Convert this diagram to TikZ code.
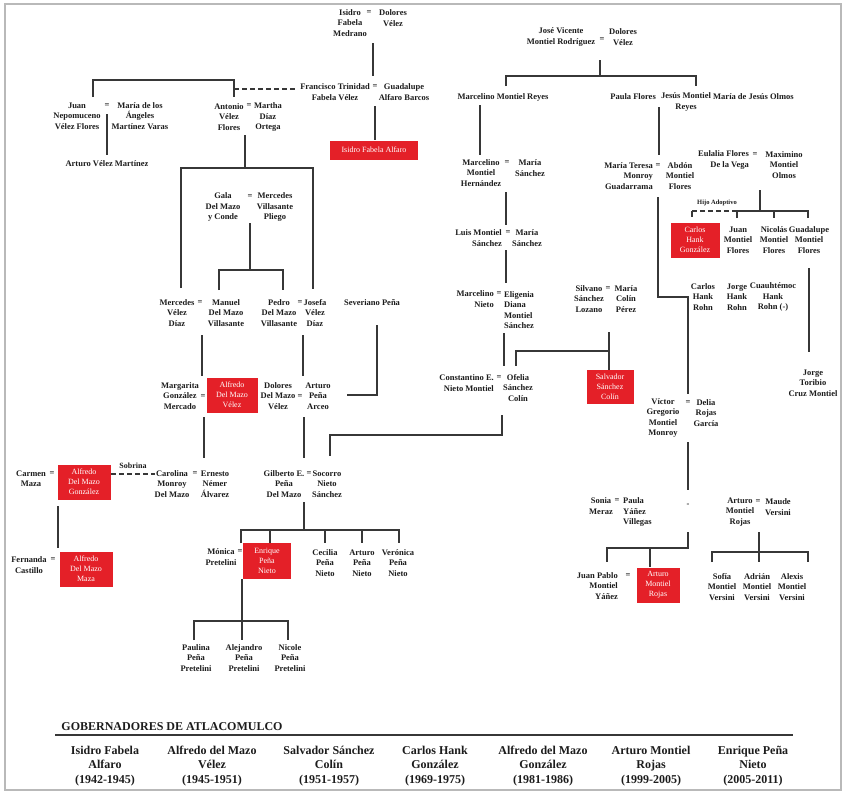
\documentclass[tikz,border=0pt]{standalone}
\usepackage{fontspec}
\setmainfont{Liberation Serif}
\definecolor{boxred}{RGB}{228,32,40}
\definecolor{linegray}{RGB}{55,55,55}
\definecolor{txt}{RGB}{28,28,28}
\begin{document}
\begin{tikzpicture}[x=1pt,y=-1pt,
  p/.style={font=\fontsize{8.5}{10.3}\selectfont\bfseries, align=center, inner sep=0pt, text=txt},
  pr/.style={p, align=right, anchor=east},
  pl/.style={p, align=left, anchor=west},
  eqs/.style={font=\fontsize{8.5}{10.3}\selectfont\bfseries, inner sep=0pt, text=txt},
  lbl/.style={font=\fontsize{7}{8}\selectfont\bfseries, inner sep=0pt, text=txt},
  gov/.style={font=\fontsize{12}{14.5}\selectfont\bfseries, align=center, inner sep=0pt, text=txt},
  rbox/.style={fill=boxred, text=white, align=center, inner sep=0pt, font=\fontsize{8}{10}\selectfont},
  ln/.style={draw=linegray, line width=2.2pt},
  dln/.style={draw=linegray, line width=2pt, dash pattern=on 5pt off 3pt},
]
\useasboundingbox (0,0) rectangle (849,793);
\draw[gray!55, line width=1.6pt] (5,4) rectangle (841,790);

% ---------------- left tree ----------------
\node[p] (isidroF) at (350,23) {Isidro\\Fabela\\Medrano};
\node[eqs] (eqA) at (369,13) {=};
\node[p] (doloresV) at (393,18) {Dolores\\Vélez};
\node[p] (francisco) at (335,92) {Francisco Trinidad\\Fabela Vélez};
\node[eqs] (eqB) at (375,87) {=};
\node[p] (guadalupe) at (404,92) {Guadalupe\\Alfaro Barcos};
\node[rbox, minimum width=88pt, minimum height=19pt] (isidroA) at (374,150) {Isidro Fabela Alfaro};
\node[p] (juanN) at (77,116) {Juan\\Nepomuceno\\Vélez Flores};
\node[eqs] (eqC) at (107,106) {=};
\node[p] (mariaA) at (140,116) {María de los\\Ángeles\\Martínez Varas};
\node[p] (arturoVM) at (107,164) {Arturo Vélez Martínez};
\node[p] (antonio) at (229,117) {Antonio\\Vélez\\Flores};
\node[eqs] (eqD) at (249,106) {=};
\node[p] (martha) at (268,117) {Martha\\Díaz\\Ortega};
\node[p] (gala) at (223,207) {Gala\\Del Mazo\\y Conde};
\node[eqs] (eqE) at (250,197) {=};
\node[p] (mercedesV) at (275,207) {Mercedes\\Villasante\\Pliego};
\node[p] (mercedesVD) at (177,313) {Mercedes\\Vélez\\Díaz};
\node[eqs] (eqF) at (200,303) {=};
\node[p] (manuel) at (226,313) {Manuel\\Del Mazo\\Villasante};
\node[p] (pedro) at (279,313) {Pedro\\Del Mazo\\Villasante};
\node[eqs] (eqG) at (300,303) {=};
\node[p] (josefa) at (315,313) {Josefa\\Vélez\\Díaz};
\node[p] (severiano) at (372,303) {Severiano Peña};
\node[p] (margarita) at (180,396) {Margarita\\González\\Mercado};
\node[eqs] (eqH) at (203,397) {=};
\node[rbox, minimum width=51pt, minimum height=35pt] (alfredoMV) at (232,395) {Alfredo\\Del Mazo\\Vélez};
\node[p] (doloresDM) at (278,396) {Dolores\\Del Mazo\\Vélez};
\node[eqs] (eqI) at (300,397) {=};
\node[p] (arturoPA) at (318,396) {Arturo\\Peña\\Arceo};
\node[p] (carmen) at (31,479) {Carmen\\Maza};
\node[eqs] (eqJ) at (52,474) {=};
\node[rbox, minimum width=53pt, minimum height=35pt] (alfredoMG) at (84,482) {Alfredo\\Del Mazo\\González};
\node[lbl, font=\fontsize{8}{9}\selectfont\bfseries] (sobrina) at (133,466) {Sobrina};
\node[p] (carolina) at (172,484) {Carolina\\Monroy\\Del Mazo};
\node[eqs] (eqK) at (195,474) {=};
\node[p] (ernesto) at (215,484) {Ernesto\\Némer\\Álvarez};
\node[p] (gilberto) at (284,484) {Gilberto E.\\Peña\\Del Mazo};
\node[eqs] (eqL) at (309,474) {=};
\node[p] (socorro) at (327,484) {Socorro\\Nieto\\Sánchez};
\node[p] (fernanda) at (29,565) {Fernanda\\Castillo};
\node[eqs] (eqM) at (53,560) {=};
\node[rbox, minimum width=53pt, minimum height=35pt] (alfredoMM) at (86,569) {Alfredo\\Del Mazo\\Maza};
\node[p] (monica) at (221,557) {Mónica\\Pretelini};
\node[eqs] (eqN) at (240,552) {=};
\node[rbox, minimum width=48pt, minimum height=36pt] (enrique) at (267,561) {Enrique\\Peña\\Nieto};
\node[p] (cecilia) at (325,563) {Cecilia\\Peña\\Nieto};
\node[p] (arturoPN) at (362,563) {Arturo\\Peña\\Nieto};
\node[p] (veronica) at (398,563) {Verónica\\Peña\\Nieto};
\node[p] (paulina) at (196,658) {Paulina\\Peña\\Pretelini};
\node[p] (alejandro) at (244,658) {Alejandro\\Peña\\Pretelini};
\node[p] (nicole) at (290,658) {Nicole\\Peña\\Pretelini};

% ---------------- right tree ----------------
\node[p] (joseV) at (561,37) {José Vicente\\Montiel Rodríguez};
\node[eqs] (eqO) at (602,40) {=};
\node[p] (doloresV2) at (623,37) {Dolores\\Vélez};
\node[p] (marcelinoMR) at (503,97) {Marcelino Montiel Reyes};
\node[pr] (paula) at (656,97) {Paula Flores};
\node[p] (jesus) at (686,102) {Jesús Montiel\\Reyes};
\node[pl] (mariaJO) at (713,97) {María de Jesús Olmos};
\node[p] (marcelinoMH) at (481,173) {Marcelino\\Montiel\\Hernández};
\node[eqs] (eqP) at (507,163) {=};
\node[p] (mariaS1) at (530,168) {María\\Sánchez};
\node[pr] (luis) at (502,238) {Luis Montiel\\Sánchez};
\node[eqs] (eqQ) at (508,233) {=};
\node[p] (mariaS2) at (527,238) {María\\Sánchez};
\node[pr] (marcelinoN) at (494,299) {Marcelino\\Nieto};
\node[eqs] (eqR) at (499,294) {=};
\node[pl] (eligenia) at (504,310) {Eligenia\\Diana\\Montiel\\Sánchez};
\node[pr] (constantino) at (494,383) {Constantino E.\\Nieto Montiel};
\node[eqs] (eqS) at (499,378) {=};
\node[p] (ofelia) at (518,388) {Ofelia\\Sánchez\\Colín};
\node[p] (silvano) at (589,299) {Silvano\\Sánchez\\Lozano};
\node[eqs] (eqT) at (608,289) {=};
\node[p] (mariaC) at (626,299) {María\\Colín\\Pérez};
\node[rbox, minimum width=47pt, minimum height=34pt] (salvador) at (610,387) {Salvador\\Sánchez\\Colín};
\node[pr] (mariaT) at (653,176) {María Teresa\\Monroy\\Guadarrama};
\node[eqs] (eqU) at (658,166) {=};
\node[p] (abdon) at (680,176) {Abdón\\Montiel\\Flores};
\node[pr] (eulalia) at (749,160) {Eulalia Flores\\De la Vega};
\node[eqs] (eqV) at (755,155) {=};
\node[p] (maximino) at (784,165) {Maximino\\Montiel\\Olmos};
\node[lbl, font=\fontsize{6.5}{7}\selectfont\bfseries] (hijo) at (717,203) {Hijo Adoptivo};
\node[rbox, minimum width=49pt, minimum height=35pt] (carlosHG) at (695,240) {Carlos\\Hank\\González};
\node[p] (juanMF) at (738,240) {Juan\\Montiel\\Flores};
\node[p] (nicolasMF) at (774,240) {Nicolás\\Montiel\\Flores};
\node[p] (guadalupeMF) at (809,240) {Guadalupe\\Montiel\\Flores};
\node[p] (carlosHR) at (703,297) {Carlos\\Hank\\Rohn};
\node[p] (jorgeHR) at (737,297) {Jorge\\Hank\\Rohn};
\node[p] (cuauhtemoc) at (773,297) {Cuauhtémoc\\Hank\\Rohn (-)};
\node[p] (jorgeT) at (813,383) {Jorge\\Toribio\\Cruz Montiel};
\node[p] (victor) at (663,418) {Víctor\\Gregorio\\Montiel\\Monroy};
\node[eqs] (eqW) at (688,403) {=};
\node[p] (delia) at (706,413) {Delia\\Rojas\\García};
\node[p] (sonia) at (601,506) {Sonia\\Meraz};
\node[eqs] (eqX) at (617,501) {=};
\node[pl] (paulaY) at (623,512) {Paula\\Yáñez\\Villegas};
\node[eqs] (dashm) at (688,505) {-};
\node[p] (arturoMR2) at (740,512) {Arturo\\Montiel\\Rojas};
\node[eqs] (eqY) at (758,502) {=};
\node[p] (maude) at (778,507) {Maude\\Versini};
\node[pr] (juanPablo) at (618,586) {Juan Pablo\\Montiel\\Yáñez};
\node[eqs] (eqZ) at (628,576) {=};
\node[rbox, minimum width=43pt, minimum height=35pt] (arturoMR) at (658,585) {Arturo\\Montiel\\Rojas};
\node[p] (sofia) at (722,587) {Sofía\\Montiel\\Versini};
\node[p] (adrian) at (757,587) {Adrián\\Montiel\\Versini};
\node[p] (alexis) at (792,587) {Alexis\\Montiel\\Versini};

% ---------------- connectors: left ----------------
\coordinate (a1) at (373,43); \coordinate (a2) at (373,76);
\draw[ln] (a1) -- (a2);
\coordinate (b1) at (93,97); \coordinate (b2) at (93,80); \coordinate (b3) at (234,80); \coordinate (b4) at (234,97);
\draw[ln] (b1) -- (b2) -- (b3) -- (b4);
\coordinate (d1) at (234,89); \coordinate (d2) at (296,89);
\draw[dln] (d1) -- (d2);
\coordinate (c1) at (375,106); \coordinate (c2) at (375,140);
\draw[ln] (c1) -- (c2);
\coordinate (e1) at (107,114); \coordinate (e2) at (107,155);
\draw[ln] (e1) -- (e2);
\coordinate (f1) at (245,135); \coordinate (f2) at (245,168);
\draw[ln] (f1) -- (f2);
\coordinate (f3) at (181,288); \coordinate (f4) at (181,168); \coordinate (f5) at (313,168); \coordinate (f6) at (313,289);
\draw[ln] (f3) -- (f4) -- (f5) -- (f6);
\coordinate (g1) at (250,223); \coordinate (g2) at (250,270);
\draw[ln] (g1) -- (g2);
\coordinate (g3) at (219,290); \coordinate (g4) at (219,270); \coordinate (g5) at (283,270); \coordinate (g6) at (283,290);
\draw[ln] (g3) -- (g4) -- (g5) -- (g6);
\coordinate (h1) at (202,335); \coordinate (h2) at (202,376);
\draw[ln] (h1) -- (h2);
\coordinate (h3) at (303,335); \coordinate (h4) at (303,376);
\draw[ln] (h3) -- (h4);
\coordinate (i1) at (377,325); \coordinate (i2) at (377,395); \coordinate (i3) at (347,395);
\draw[ln] (i1) -- (i2) -- (i3);
\coordinate (j1) at (204,417); \coordinate (j2) at (204,458);
\draw[ln] (j1) -- (j2);
\coordinate (j3) at (304,417); \coordinate (j4) at (304,458);
\draw[ln] (j3) -- (j4);
\coordinate (k1) at (502,415); \coordinate (k2) at (502,435); \coordinate (k3) at (330,435); \coordinate (k4) at (330,456);
\draw[ln] (k1) -- (k2) -- (k3) -- (k4);
\coordinate (s1) at (111,474); \coordinate (s2) at (155,474);
\draw[dln] (s1) -- (s2);
\coordinate (m1) at (58,506); \coordinate (m2) at (58,548);
\draw[ln] (m1) -- (m2);
\coordinate (n1) at (304,502); \coordinate (n2) at (304,530);
\draw[ln] (n1) -- (n2);
\coordinate (n3) at (241,543); \coordinate (n4) at (241,530); \coordinate (n5) at (399,530); \coordinate (n6) at (399,543);
\draw[ln] (n3) -- (n4) -- (n5) -- (n6);
\coordinate (n7) at (270,530); \coordinate (n8) at (270,543);
\draw[ln] (n7) -- (n8);
\coordinate (n9) at (325,530); \coordinate (n10) at (325,543);
\draw[ln] (n9) -- (n10);
\coordinate (n11) at (362,530); \coordinate (n12) at (362,543);
\draw[ln] (n11) -- (n12);
\coordinate (o1) at (242,579); \coordinate (o2) at (242,640);
\draw[ln] (o1) -- (o2);
\coordinate (o3) at (194,640); \coordinate (o4) at (194,621); \coordinate (o5) at (288,621); \coordinate (o6) at (288,640);
\draw[ln] (o3) -- (o4) -- (o5) -- (o6);

% ---------------- connectors: right ----------------
\coordinate (q1) at (600,60); \coordinate (q2) at (600,76);
\draw[ln] (q1) -- (q2);
\coordinate (q3) at (506,86); \coordinate (q4) at (506,76); \coordinate (q5) at (696,76); \coordinate (q6) at (696,86);
\draw[ln] (q3) -- (q4) -- (q5) -- (q6);
\coordinate (r1) at (480,105); \coordinate (r2) at (480,155);
\draw[ln] (r1) -- (r2);
\coordinate (r3) at (659,107); \coordinate (r4) at (659,155);
\draw[ln] (r3) -- (r4);
\coordinate (t1) at (506,192); \coordinate (t2) at (506,225);
\draw[ln] (t1) -- (t2);
\coordinate (t3) at (506,250); \coordinate (t4) at (506,283);
\draw[ln] (t3) -- (t4);
\coordinate (t5) at (504,333); \coordinate (t6) at (504,366);
\draw[ln] (t5) -- (t6);
\coordinate (u1) at (609,332); \coordinate (u2) at (609,370);
\draw[ln] (u1) -- (u2);
\coordinate (u3) at (609,351); \coordinate (u4) at (516,351); \coordinate (u5) at (516,366);
\draw[ln] (u3) -- (u4) -- (u5);
\coordinate (v1) at (658,197); \coordinate (v2) at (658,297); \coordinate (v3) at (688,297); \coordinate (v4) at (688,394);
\draw[ln] (v1) -- (v2) -- (v3) -- (v4);
\coordinate (w1) at (688,442); \coordinate (w2) at (688,490);
\draw[ln] (w1) -- (w2);
\coordinate (w3) at (688,532); \coordinate (w4) at (688,548); \coordinate (w5) at (607,548); \coordinate (w6) at (607,562);
\draw[ln] (w3) -- (w4) -- (w5) -- (w6);
\coordinate (w7) at (650,548); \coordinate (w8) at (650,567);
\draw[ln] (w7) -- (w8);
\coordinate (x1) at (760,190); \coordinate (x2) at (760,211);
\draw[ln] (x1) -- (x2);
\coordinate (x3) at (737,218); \coordinate (x4) at (737,211); \coordinate (x5) at (808,211); \coordinate (x6) at (808,218);
\draw[ln] (x3) -- (x4) -- (x5) -- (x6);
\coordinate (x7) at (774,211); \coordinate (x8) at (774,218);
\draw[ln] (x7) -- (x8);
\coordinate (x9) at (692,211);
\draw[dln] (x9) -- (x4);
\coordinate (x10) at (692,217);
\draw[ln] (x9) -- (x10);
\coordinate (y1) at (809,268); \coordinate (y2) at (809,352);
\draw[ln] (y1) -- (y2);
\coordinate (z1) at (759,532); \coordinate (z2) at (759,562);
\draw[ln] (z1) -- (z2);
\coordinate (z3) at (712,562); \coordinate (z4) at (712,552); \coordinate (z5) at (808,552); \coordinate (z6) at (808,562);
\draw[ln] (z3) -- (z4) -- (z5) -- (z6);

% ---------------- governors ----------------
\node[font=\fontsize{12}{13}\selectfont\bfseries, inner sep=0pt, text=txt] (title) at (172,727) {GOBERNADORES DE ATLACOMULCO};
\coordinate (ruleL) at (55,735); \coordinate (ruleR) at (793,735);
\draw[draw=linegray, line width=1.8pt] (ruleL) -- (ruleR);
\node[gov] (gv1) at (105,766) {Isidro Fabela\\Alfaro\\(1942-1945)};
\node[gov] (gv2) at (212,766) {Alfredo del Mazo\\Vélez\\(1945-1951)};
\node[gov] (gv3) at (329,766) {Salvador Sánchez\\Colín\\(1951-1957)};
\node[gov] (gv4) at (435,766) {Carlos Hank\\González\\(1969-1975)};
\node[gov] (gv5) at (543,766) {Alfredo del Mazo\\González\\(1981-1986)};
\node[gov] (gv6) at (651,766) {Arturo Montiel\\Rojas\\(1999-2005)};
\node[gov] (gv7) at (753,766) {Enrique Peña\\Nieto\\(2005-2011)};
\end{tikzpicture}
\end{document}
